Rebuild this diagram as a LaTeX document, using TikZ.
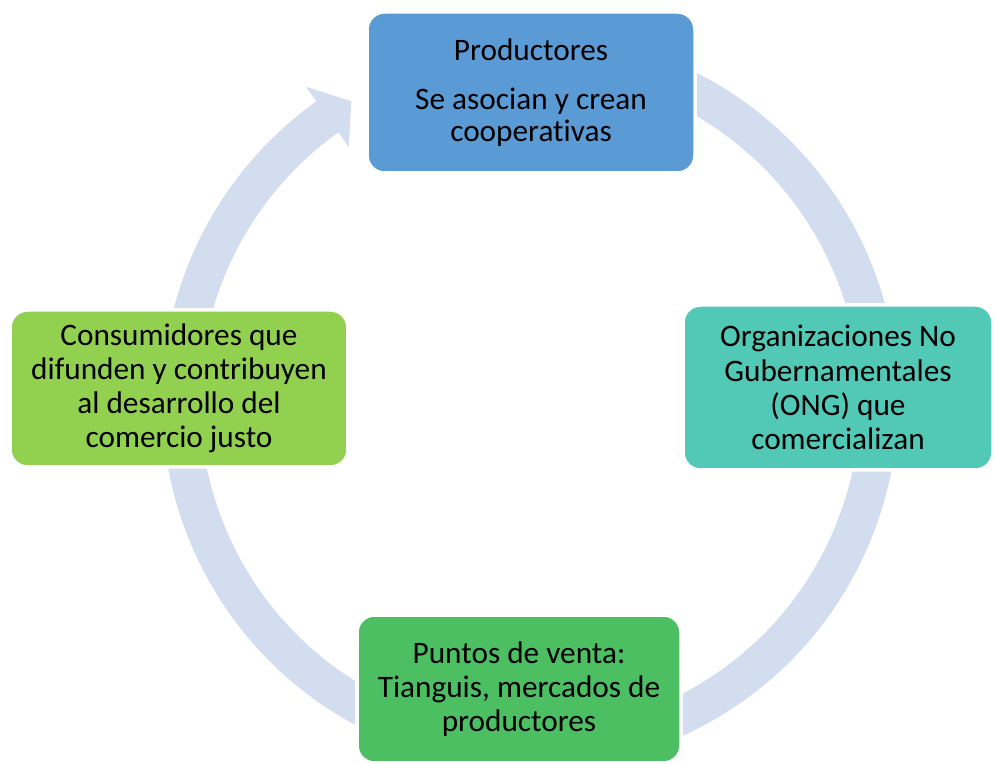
\documentclass[tikz,border=0pt]{standalone}
\usepackage{fontspec}
\setmainfont{Carlito}[RawFeature={-liga;-clig;-calt;-dlig}]
\usepackage{tikz}
\usetikzlibrary{calc}
\pgfdeclarelayer{background}
\pgfsetlayers{background,main}
\definecolor{prodblue}{HTML}{5B9BD5}
\definecolor{ongteal}{HTML}{52C9B7}
\definecolor{ventagreen}{HTML}{4CBF63}
\definecolor{consgreen}{HTML}{92D050}
\definecolor{ringblue}{HTML}{D2DDEF}
\tikzstyle{stage}    = [rectangle, rounded corners=0.35cm, align=center, draw=white, line width=2pt, inner sep=0pt, font=\fontsize{17.8}{19.4}\selectfont]
\tikzstyle{ring}     = [draw=ringblue, line width=0.76cm]
\tikzstyle{ringhead} = [fill=ringblue]

\begin{document}
\begin{tikzpicture}
    \useasboundingbox (0,0) rectangle (19.92,15.28);
    \coordinate (centre) at (10.6,7.26);

    \node (prod)  [stage, fill=prodblue,   minimum width=6.56cm, minimum height=3.22cm, font=\fontsize{17.8}{18.2}\selectfont] at (10.62,13.43) {Productores\\[0.33cm]Se asocian y crean\\cooperativas};
    \node (ong)   [stage, fill=ongteal,    minimum width=6.2cm,  minimum height=3.3cm]  at (16.76,7.53)  {Organizaciones No\\Gubernamentales\\(ONG) que\\comercializan};
    \node (venta) [stage, fill=ventagreen, minimum width=6.48cm, minimum height=2.96cm] at (10.38,1.5)   {Puntos de venta:\\Tianguis, mercados de\\productores};
    \node (cons)  [stage, fill=consgreen,  minimum width=6.76cm, minimum height=3.14cm] at (3.58,7.51)   {Consumidores que\\difunden y contribuyen\\al desarrollo del\\comercio justo};

    \begin{pgfonlayer}{background}
      \draw [ring] ($(centre)+(68:6.98)$) arc [start angle=68, end angle=-234.8, radius=6.98];
      \fill [ringhead] ($(centre)+(125.5:6.24)$) -- ($(centre)+(125.5:7.72)$) -- ($(centre)+(120.8:6.98)$) -- cycle;
    \end{pgfonlayer}

\end{tikzpicture}
\end{document}
